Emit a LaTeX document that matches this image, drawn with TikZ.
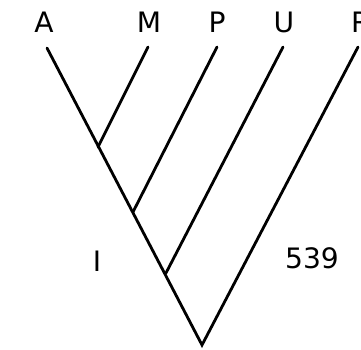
\documentclass[tikz,border=0pt]{standalone}
\usepackage{fontspec}
\setsansfont{DejaVu Sans}
\usetikzlibrary{positioning}
\tikzset{
  taxon/.style={font=\sffamily\fontsize{20}{20}\selectfont, inner sep=0pt, anchor=base},
  branch/.style={line width=2pt, line cap=round, line join=miter}
}

\begin{document}
\begin{tikzpicture}[x=0.025cm, y=-0.025cm]
  \useasboundingbox (0,0) rectangle (361,349);

  \node[taxon] (A) at (44,32)  {A};
  \node[taxon] (M) at (149,32) {M};
  \node[taxon] (P) at (217,32) {P};
  \node[taxon] (U) at (284,32) {U};
  \node[taxon] (R) at (361,32) {R};

  \coordinate (tA) at (47,48);
  \coordinate (tM) at (148,47);
  \coordinate (tP) at (217,47);
  \coordinate (tU) at (283,47);
  \coordinate (tR) at (358,47);
  \coordinate (jM) at (98,147);
  \coordinate (jP) at (133,212);
  \coordinate (jU) at (166,273);
  \coordinate (root) at (202,345);

  \draw[branch] (tA) -- (root) -- (tR);
  \draw[branch] (tM) -- (jM);
  \draw[branch] (tP) -- (jP);
  \draw[branch] (tU) -- (jU);

  \node[taxon] (one) at (97,271) {I};
  \node[taxon] (count) at (312,268) {539};
\end{tikzpicture}
\end{document}
